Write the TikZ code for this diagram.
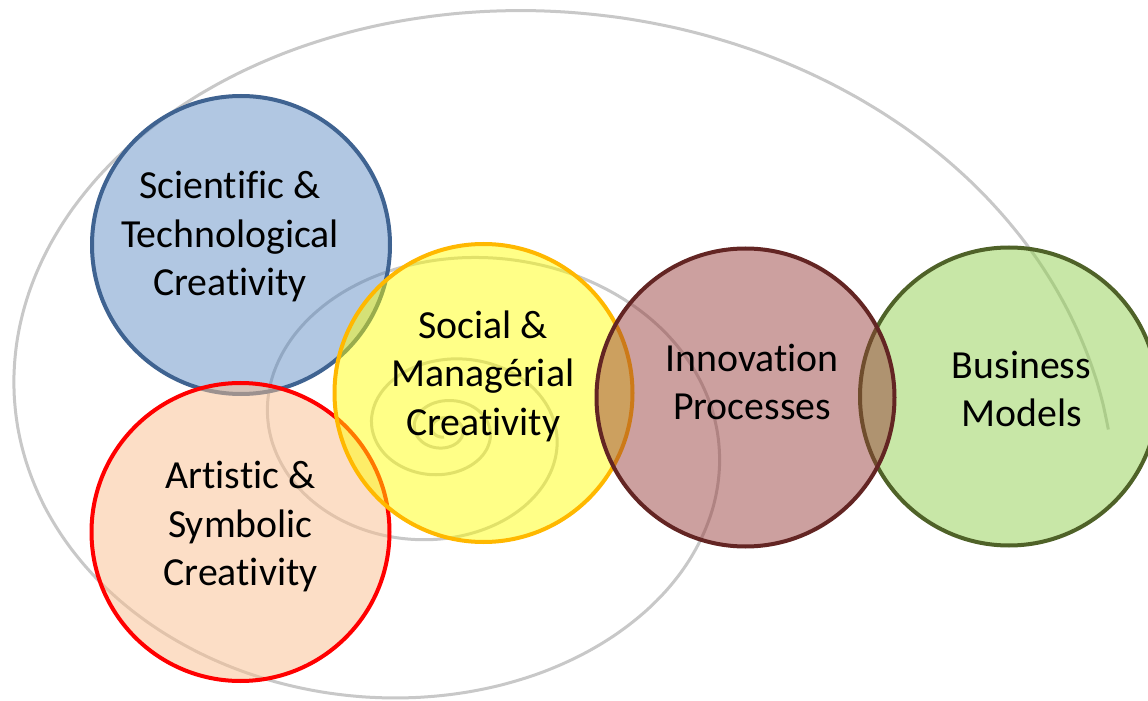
\documentclass[tikz,border=0pt]{standalone}
\usepackage{fontspec}
\setmainfont{Carlito}[Ligatures=NoCommon]
\definecolor{blueline}{HTML}{3F6391}
\definecolor{bluefill}{HTML}{4F81BD}
\definecolor{redline}{HTML}{FF0000}
\definecolor{redfill}{HTML}{FABF8F}
\definecolor{yelline}{HTML}{FFB800}
\definecolor{yelfill}{HTML}{FFFF00}
\definecolor{marline}{HTML}{632523}
\definecolor{marfill}{HTML}{943634}
\definecolor{grnline}{HTML}{4F6228}
\definecolor{grnfill}{HTML}{92D050}
\definecolor{spiralgray}{RGB}{200,200,200}
\begin{document}
\begin{tikzpicture}[x=0.5pt,y=-0.5pt,
  ring/.style={circle, minimum size=149pt, inner sep=0pt, line width=2pt},
  lbl/.style={align=center, inner sep=0pt, text=black,
    font=\fontsize{19.9pt}{24.25pt}\selectfont},
  spiralline/.style={draw=spiralgray, line width=1.5pt}]
\fill[white] (0,0) rectangle (1148,701);
\clip (0,0) rectangle (1148,701);
% spiral
\draw[spiralline] plot[domain=0:1710, samples=600, smooth]
  ({444+664.35*exp(-0.0024793*\x)*cos(\x)}, {429.5-518*exp(-0.0024793*\x)*sin(\x)});
% circles
\node[ring, draw=blueline, fill=bluefill, fill opacity=0.44] (sci) at (241,245) {};
\node[ring, draw=redline, fill=redfill, fill opacity=0.5] (art) at (240.5,532) {};
\node[ring, draw=yelline, fill=yelfill, fill opacity=0.47] (soc) at (483.5,393) {};
\node[ring, draw=grnline, fill=grnfill, fill opacity=0.5] (bus) at (1009,396.5) {};
\node[ring, draw=marline, fill=marfill, fill opacity=0.47] (inn) at (745.5,397.5) {};
% labels
\node[lbl] (scit) at (230,237) {Scientific \&\\Technological\\Creativity};
\node[lbl] (artt) at (240.5,527) {Artistic \&\\Symbolic\\Creativity};
\node[lbl] (soct) at (483,376) {Social \&\\Managérial\\Creativity};
\node[lbl] (innt) at (752,382) {Innovation\\Processes};
\node[lbl] (bust) at (1021.5,389) {Business\\Models};
\end{tikzpicture}
\end{document}
